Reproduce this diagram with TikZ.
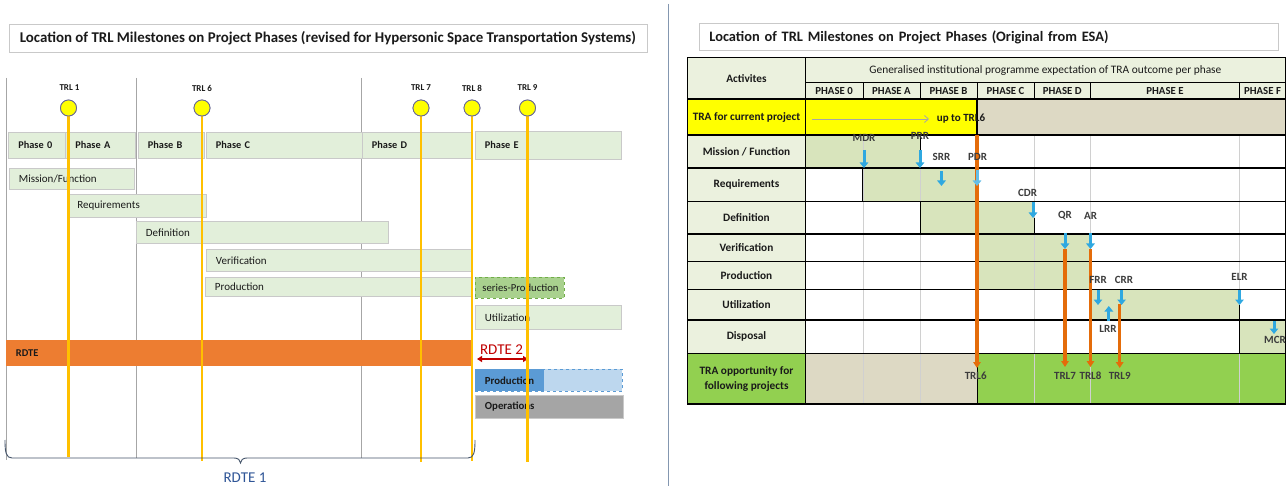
\documentclass[tikz,border=0pt]{standalone}
\usepackage{fontspec}
\setmainfont{Carlito}
\usetikzlibrary{arrows.meta}
\definecolor{lgreen}{HTML}{E2EFDA}
\definecolor{boxgray}{HTML}{C9C9C9}
\definecolor{sgreen}{HTML}{A9D18E}
\definecolor{sgreenb}{HTML}{70AD47}
\definecolor{rdtec}{HTML}{ED7D31}
\definecolor{pblue}{HTML}{5B9BD5}
\definecolor{plblue}{HTML}{BDD7EE}
\definecolor{opgray}{HTML}{A5A5A5}
\definecolor{trlgold}{HTML}{FFC000}
\definecolor{trlyellow}{HTML}{FFFF00}
\definecolor{vgray}{HTML}{A6A6A6}
\definecolor{bracec}{HTML}{44546A}
\definecolor{rdtea}{HTML}{2F5597}
\definecolor{rdteb}{HTML}{C00000}
\definecolor{sepc}{HTML}{8497B0}
\definecolor{labcell}{HTML}{EBF1DE}
\definecolor{barg}{HTML}{D8E4BC}
\definecolor{beige}{HTML}{DDD9C4}
\definecolor{tragreen}{HTML}{92D050}
\definecolor{msblue}{HTML}{2FA8E0}
\definecolor{msorange}{HTML}{E46C0A}
\definecolor{gridgray}{HTML}{D0D0D0}
\definecolor{txt}{HTML}{1A1A1A}
\newcommand{\fs}[1]{\fontsize{#1}{#1}\selectfont}
\newcommand{\msarrow}[4]{\coordinate (#1a) at (#2,#3); \coordinate (#1b) at (#2,#4); \draw[barrow] (#1a) -- (#1b);}
\newcommand{\orarrow}[4]{\coordinate (#1a) at (#2,#3); \coordinate (#1b) at (#2,#4); \draw[oarrow] (#1a) -- (#1b);}
\begin{document}
\begin{tikzpicture}[x=1pt,y=-1pt,
  titlebox/.style={draw=boxgray, fill=white, line width=0.8pt, inner sep=0pt, font=\fs{14.9}\bfseries, text=txt},
  pbox/.style={draw=boxgray, fill=lgreen, line width=0.8pt, inner xsep=9.5pt, inner ysep=0pt, align=left, anchor=north west, font=\fs{11}, text=txt},
  phbox/.style={pbox, font=\fs{10.3}\bfseries},
  trlc/.style={circle, draw=gray!80!blue, fill=trlyellow, line width=0.8pt, minimum size=16pt, inner sep=0pt},
  trlline/.style={trlgold, line width=2.8pt},
  trllab/.style={font=\fs{9}\bfseries, text=txt, inner sep=0pt},
  lab/.style={draw=black, line width=1.2pt, fill=labcell, font=\fs{11.3}\bfseries, text=txt, align=center, inner sep=0pt},
  phlab/.style={font=\fs{10.8}\bfseries, text=txt, inner sep=0pt},
  mslab/.style={font=\fs{11}\bfseries, text=txt!85, inner sep=0pt},
  barrow/.style={-{Triangle[width=8.5pt,length=5.5pt]}, line width=3pt, msblue},
  oarrow/.style={-{Triangle[width=7.5pt,length=6pt]}, line width=3.2pt, msorange},
  rowline/.style={black, line width=1.3pt},
  gridline/.style={gridgray, line width=0.8pt},
  barline/.style={black, line width=1pt}
]
\useasboundingbox (0,0) rectangle (1287,486);
\fill[white] (0,0) rectangle (1287,486);

% ================= LEFT PANEL =================
\node[titlebox, minimum width=638pt, minimum height=28pt, anchor=north west] (ltitle) at (8.5,24)
  {Location of TRL Milestones on Project Phases (revised for Hypersonic Space Transportation Systems)};

% gray phase separators
\draw[vgray, line width=0.7pt] (6.3,78) -- (6.3,460);
\draw[vgray, line width=0.7pt] (136,78) -- (136,458);
\draw[vgray, line width=0.7pt] (361,78) -- (361,458);

% phases
\node[phbox, text width=38pt, minimum height=26pt] (ph0) at (8.4,132) {\mbox{Phase 0}};
\node[phbox, text width=50.6pt, minimum height=26pt] (phA) at (65.4,132) {\mbox{Phase A}};
\node[phbox, text width=47pt, minimum height=26pt] (phB) at (138,132) {\mbox{Phase B}};
\node[phbox, text width=137pt, minimum height=26pt] (phC) at (206,132) {Phase C};
\node[phbox, text width=91pt, minimum height=26pt] (phD) at (362,132) {Phase D};
\node[phbox, text width=127pt, minimum height=28pt] (phE) at (475,131) {Phase E};

% activities
\node[pbox, text width=106pt, minimum height=21pt] (mis) at (9,168) {\mbox{Mission/Function}};
\node[pbox, text width=119pt, minimum height=23pt] (req) at (67.5,194) {Requirements};
\node[pbox, text width=233pt, minimum height=22pt] (def) at (136,221) {Definition};
\node[pbox, text width=247pt, minimum height=22pt] (ver) at (206,249) {Verification};
\node[pbox, text width=248pt, minimum height=19pt] (prod) at (205,277) {Production};
\node[pbox, draw=sgreenb, dashed, fill=sgreen, inner xsep=7pt, text width=75pt, minimum height=21pt, font=\fs{10.7}] (spr) at (475,277) {\mbox{series-Production}};
\node[pbox, text width=127pt, minimum height=24pt] (util) at (475,305) {Utilization};
\node[pbox, draw=none, fill=rdtec, text width=447pt, minimum height=26pt, font=\fs{10.4}\bfseries] (rdte) at (6,340) {RDTE};
\node[pbox, draw=pblue, dashed, fill=plblue, text width=128pt, minimum height=22pt] (prl) at (475,369) {};
\node[pbox, draw=none, fill=pblue, text width=50pt, minimum height=22pt, font=\fs{10.8}\bfseries] (prd) at (475,369) {\mbox{Production}};
\node[pbox, fill=opgray, text width=129pt, minimum height=23pt, font=\fs{10.8}\bfseries] (ops) at (475,395) {Operations};

% RDTE 2
\node[font=\fs{15}, text=rdteb, inner sep=0pt] (rdte2) at (501.5,349.5) {RDTE 2};
\coordinate (r2a) at (477,359);
\coordinate (r2b) at (528,359);
\draw[rdteb, line width=1.4pt, {Triangle[width=6pt,length=5pt]}-{Triangle[width=6pt,length=5pt]}] (r2a) -- (r2b);

% TRL milestones
\node[trlc] (t1) at (68.5,108) {};
\node[trlc] (t6) at (202,108) {};
\node[trlc] (t7) at (421,108) {};
\node[trlc] (t8) at (472,108) {};
\node[trlc] (t9) at (527.5,108) {};
\coordinate (t1e) at (68.5,457);
\coordinate (t6e) at (202,461);
\coordinate (t7e) at (421,462);
\coordinate (t8e) at (472,461);
\coordinate (t9e) at (527.5,462);
\draw[trlline] (t1.south) -- (t1e);
\draw[trlline] (t6.south) -- (t6e);
\draw[trlline] (t7.south) -- (t7e);
\draw[trlline] (t8.south) -- (t8e);
\draw[trlline] (t9.south) -- (t9e);
\node[trlc] at (t1) {};
\node[trlc] at (t6) {};
\node[trlc] at (t7) {};
\node[trlc] at (t8) {};
\node[trlc] at (t9) {};
\node[trllab] (l1) at (69.5,88) {TRL 1};
\node[trllab] (l6) at (202,88) {TRL 6};
\node[trllab] (l7) at (421,88) {TRL 7};
\node[trllab] (l8) at (472,88) {TRL 8};
\node[trllab] (l9) at (527.5,88) {TRL 9};

% brace RDTE 1
\draw[bracec, line width=0.9pt] (5,440) .. controls (5,452) and (6,458) .. (12,458) -- (234,458)
  .. controls (238,458) and (240.5,460) .. (240.5,463) .. controls (240.5,460) and (243,458) .. (247,458)
  -- (468,458) .. controls (474,458) and (475,452) .. (475,440);
\node[font=\fs{15}, text=rdtea, inner sep=0pt] (rdte1) at (245,478) {RDTE 1};

% separator
\draw[sepc, line width=1pt] (668.3,4) -- (668.3,486);

% ================= RIGHT PANEL =================
\node[titlebox, font=\fs{14.4}\bfseries, minimum height=27pt, inner xsep=10pt, text width=559pt, align=left, anchor=north west] (rtitle) at (699,23)
  {Location of TRL Milestones on Project Phases (Original from ESA)};

% fills
\fill[labcell] (805.3,57.7) rectangle (1285.5,99);
\fill[trlyellow] (687.7,99) rectangle (977,135);
\fill[beige] (977,99) rectangle (1285.5,135);
\fill[barg] (805.3,135) rectangle (920,168);
\fill[barg] (862.9,168) rectangle (977,201.7);
\fill[barg] (920,201.7) rectangle (1034,234);
\fill[barg] (977,234) rectangle (1090.5,261.7);
\fill[barg] (977,261.7) rectangle (1092,289.3);
\fill[barg] (1092,289.3) rectangle (1239.5,320);
\fill[barg] (1239.5,320) rectangle (1285.5,353.3);
\fill[beige] (805.3,353.3) rectangle (977,404);
\fill[tragreen] (977,353.3) rectangle (1285.5,404);

% grid
\foreach \gx in {862.9,920,977,1034,1090.5,1239.5} {
  \draw[gridline] (\gx,135) -- (\gx,405);
}
\foreach \gy in {135,168,201.7,234,261.7,289.3,320,353.3} {
  \draw[rowline] (687.7,\gy) -- (1285.5,\gy);
}
\draw[rowline] (805.3,99) -- (1285.5,99);
\draw[black, line width=0.7pt] (805.3,82.7) -- (1285.5,82.7);
\foreach \gx in {862.9,920,977,1034,1090.5,1239.5} {
  \draw[black, line width=0.7pt] (\gx,82.7) -- (\gx,99);
}
\draw[barline] (920,135) -- (920,168);
\draw[barline] (862.9,168) -- (862.9,201.7);
\draw[barline] (920,201.7) -- (920,234);
\draw[barline] (1034,218) -- (1034,234);
\draw[barline] (1239.5,305) -- (1239.5,353.3);
\draw[barline] (977,353.3) -- (977,404);
\draw[rowline] (977,99) -- (977,135);

% label column cells
\node[lab, minimum width=117.6pt, minimum height=41.3pt] (cact) at (746.5,78.35) {Activites};
\node[lab, fill=trlyellow, minimum width=117.6pt, minimum height=36pt] (ctra) at (746.5,117) {TRA for current project};
\node[lab, minimum width=117.6pt, minimum height=33pt] (cmis) at (746.5,151.5) {Mission / Function};
\node[lab, minimum width=117.6pt, minimum height=33.7pt] (creq) at (746.5,184.85) {Requirements};
\node[lab, minimum width=117.6pt, minimum height=32.3pt] (cdef) at (746.5,217.85) {Definition};
\node[lab, minimum width=117.6pt, minimum height=27.7pt] (cver) at (746.5,247.85) {Verification};
\node[lab, minimum width=117.6pt, minimum height=27.6pt] (cprod) at (746.5,275.5) {Production};
\node[lab, minimum width=117.6pt, minimum height=30.7pt] (cutil) at (746.5,304.65) {Utilization};
\node[lab, minimum width=117.6pt, minimum height=33.3pt] (cdisp) at (746.5,336.65) {Disposal};
\node[lab, fill=tragreen, minimum width=117.6pt, minimum height=50.7pt, font=\fontsize{11.3}{15}\selectfont\bfseries] (copp) at (746.5,378.65) {TRA opportunity for\\following projects};

% outer border
\draw[black, line width=1.4pt] (687.7,57.7) rectangle (1285.5,404);

% header texts
\node[font=\fs{11.4}, text=txt, inner sep=0pt] (hgen) at (1045.4,70.5) {Generalised institutional programme expectation of TRA outcome per phase};
\node[phlab] (hp0) at (834.1,91) {PHASE 0};
\node[phlab] (hpA) at (891.45,91) {PHASE A};
\node[phlab] (hpB) at (948.5,91) {PHASE B};
\node[phlab] (hpC) at (1005.5,91) {PHASE C};
\node[phlab] (hpD) at (1062.25,91) {PHASE D};
\node[phlab] (hpE) at (1165,91) {PHASE E};
\node[phlab] (hpF) at (1262.5,91) {PHASE F};

% TRA row
\coordinate (upa) at (812,119);
\coordinate (upb) at (929,119);
\draw[vgray, line width=0.8pt, -{Straight Barb[length=4pt,width=7pt]}] (upa) -- (upb);
\node[font=\fs{11}\bfseries, text=txt, inner sep=0pt] (upto) at (961,119) {up to TRL6};

% orange TRL arrows
\orarrow{o6}{977}{135}{368}
\orarrow{o7}{1065}{249}{367}
\orarrow{o8}{1090.5}{249}{367}
\orarrow{o9}{1119.7}{304}{368}

% blue milestone arrows
\msarrow{mdr}{864}{150}{168}
\msarrow{prr}{920}{150}{168}
\msarrow{srr}{941.5}{171}{186}
\coordinate (pdra) at (977,170);
\coordinate (pdrb) at (977,186);
\draw[barrow, msblue!75!white] (pdra) -- (pdrb);
\msarrow{cdr}{1033}{202}{218}
\msarrow{qr}{1065}{233}{249}
\msarrow{ar}{1090.5}{233}{249}
\msarrow{frr}{1098}{290}{305}
\msarrow{crr}{1121.6}{290}{305}
\msarrow{elr}{1239.5}{290}{305}
\msarrow{mcr}{1274}{321}{334}
\msarrow{lrr}{1108.8}{321}{306}

% milestone labels
\node[mslab] (nmdr) at (864,138) {MDR};
\node[mslab] (nprr) at (920,135.5) {PRR};
\node[mslab] (nsrr) at (941.5,157) {SRR};
\node[mslab] (npdr) at (977.6,157) {PDR};
\node[mslab] (ncdr) at (1027.5,193) {CDR};
\node[mslab] (nqr) at (1065,215.7) {QR};
\node[mslab] (nar) at (1090.5,215.7) {AR};
\node[mslab] (nfrr) at (1098,280) {FRR};
\node[mslab] (ncrr) at (1124,280) {CRR};
\node[mslab] (nelr) at (1239.5,277) {ELR};
\node[mslab] (nlrr) at (1108,329) {LRR};
\node[mslab] (nmcr) at (1275,340) {MCR};
\node[mslab] (ntrl6) at (975.7,376) {TRL6};
\node[mslab] (ntrl7) at (1065,376) {TRL7};
\node[mslab] (ntrl8) at (1090.5,376) {TRL8};
\node[mslab] (ntrl9) at (1119.7,376) {TRL9};
\end{tikzpicture}
\end{document}
